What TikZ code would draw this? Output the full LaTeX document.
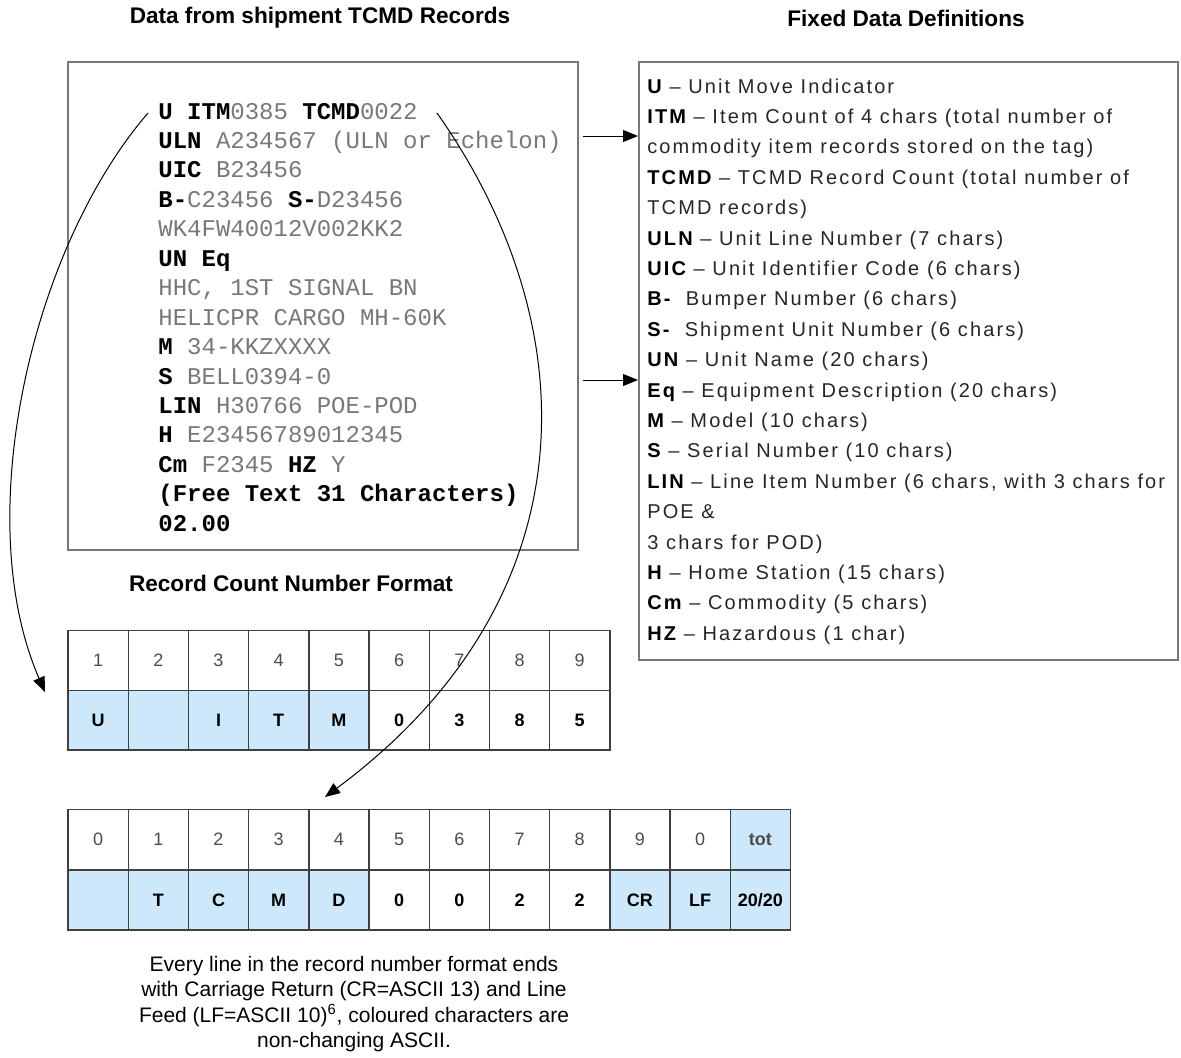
\documentclass[tikz,border=0pt]{standalone}
\usepackage{fontspec}
\usepackage{xcolor}
\setmainfont{Liberation Sans}
\newfontfamily\recfont{Liberation Mono}
\newfontfamily\deffont[LetterSpace=10.5]{Liberation Sans}
\usetikzlibrary{arrows.meta}

\definecolor{cellblue}{RGB}{204,232,250}
\definecolor{boxgray}{RGB}{120,120,120}
\definecolor{valgray}{RGB}{120,120,120}
\newcommand{\kw}[1]{\textbf{\color{black}#1}}

\begin{document}
\begin{tikzpicture}[x=0.5pt,y=-0.5pt,
    cell/.style={draw=black!75, line width=0.7pt, minimum width=30.1pt, minimum height=29.8pt, inner sep=0pt, font=\fontsize{9}{11}\selectfont},
    frame/.style={draw=boxgray, line width=1pt, inner sep=0pt},
    arr/.style={-{Triangle[length=7.5pt,width=6pt]}, line width=0.5pt},
    title/.style={font=\bfseries\fontsize{11.3}{13}\selectfont}]
    \useasboundingbox (0,0) rectangle (1181,1057);

    % titles
    \node[title] (dataTitle) at (320,18) {Data from shipment TCMD Records};
    \node[title] (defTitle) at (906,18) {Fixed Data Definitions};
    \node[title] (fmtTitle) at (291,583) {Record Count Number Format};

    % the two boxes
    \node[frame, minimum width=255pt, minimum height=244pt] (recBox) at (323,306) {};
    \node[frame, minimum width=269.5pt, minimum height=299pt] (defBox) at (908.5,361) {};

    % record lines
    \foreach \ln [count=\i from 0] in {
        {\kw{U ITM}0385 \kw{TCMD}0022},
        {\kw{ULN} A234567 (ULN or Echelon)},
        {\kw{UIC} B23456},
        {\kw{B-}C23456 \kw{S-}D23456},
        {WK4FW40012V002KK2},
        {\kw{UN Eq}},
        {HHC, 1ST SIGNAL BN},
        {HELICPR CARGO MH-60K},
        {\kw{M} 34-KKZXXXX},
        {\kw{S} BELL0394-0},
        {\kw{LIN} H30766 POE-POD},
        {\kw{H} E23456789012345},
        {\kw{Cm} F2345 \kw{HZ} Y},
        {\kw{(Free Text 31 Characters)}},
        {\kw{02.00}}}
        \node[anchor=base west, inner sep=0pt, text=valgray, font=\recfont\fontsize{12}{14}\selectfont] (rec-\i) at (158,{119+29.45*\i}) {\ln};

    % definition lines
    \foreach \ln [count=\i from 0] in {
        {\kw{U} – Unit Move Indicator},
        {\kw{ITM} – Item Count of 4 chars (total number of},
        {commodity item records stored on the tag)},
        {\kw{TCMD} – TCMD Record Count (total number of},
        {TCMD records)},
        {\kw{ULN} – Unit Line Number (7 chars)},
        {\kw{UIC} – Unit Identifier Code (6 chars)},
        {\kw{B-}\ \ Bumper Number (6 chars)},
        {\kw{S-}\ \ Shipment Unit Number (6 chars)},
        {\kw{UN} – Unit Name (20 chars)},
        {\kw{Eq} – Equipment Description (20 chars)},
        {\kw{M} – Model (10 chars)},
        {\kw{S} – Serial Number (10 chars)},
        {\kw{LIN} – Line Item Number (6 chars, with 3 chars for},
        {POE \&},
        {3 chars for POD)},
        {\kw{H} – Home Station (15 chars)},
        {\kw{Cm} – Commodity (5 chars)},
        {\kw{HZ} – Hazardous (1 char)}}
        \node[anchor=base west, inner sep=0pt, text=black!85, font=\deffont\fontsize{10}{11}\selectfont] (def-\i) at (647,{93+30.4*\i}) {\ln};

    \draw[arr] ([xshift=2pt]recBox.east |- 0,136) -- (defBox.west |- 0,136);
    \draw[arr] ([xshift=2pt]recBox.east |- 0,380) -- (defBox.west |- 0,380);

    % item count cells
    \foreach \num [count=\i] in {1,...,9}
        \node[cell, text=black!70] (itmHead-\i) at ({68+60.2*(\i-0.5)},660.5) {\num};
    \foreach \lab/\fc [count=\i] in {U/cellblue, /cellblue, I/cellblue, T/cellblue, M/cellblue, 0/white, 3/white, 8/white, 5/white}
        \node[cell, fill=\fc] (itm-\i) at ({68+60.2*(\i-0.5)},720) {\textbf{\lab}};

    % tcmd count cells
    \foreach \lab/\fc [count=\i] in {0/white, 1/white, 2/white, 3/white, 4/white, 5/white, 6/white, 7/white, 8/white, 9/white, 0/white, \textbf{tot}/cellblue}
        \node[cell, fill=\fc, text=black!70] (tcmdHead-\i) at ({68+60.2*(\i-0.5)},839.5) {\lab};
    \foreach \lab/\fc [count=\i] in { /cellblue, T/cellblue, C/cellblue, M/cellblue, D/cellblue, 0/white, 0/white, 2/white, 2/white, CR/cellblue, LF/cellblue, {20/20}/cellblue}
        \node[cell, fill=\fc] (tcmd-\i) at ({68+60.2*(\i-0.5)},900) {\textbf{\lab}};

    % curved pointers
    \coordinate (uMark) at (148,113);
    \coordinate (uEnd) at (45,692);
    \draw[arr] (uMark) .. controls (30,250) and (-30,520) .. (uEnd);
    \coordinate (tcmdMark) at (437,113);
    \coordinate (tcmdEnd) at (325,797);
    \draw[arr] (tcmdMark) .. controls (590,330) and (590,600) .. (tcmdEnd);

    \node[align=center, font=\fontsize{10.5}{12.65}\selectfont] (note) at (354,1004) {Every line in the record number format ends\\with Carriage Return (CR=ASCII 13) and Line\\Feed (LF=ASCII 10)\textsuperscript{6}, coloured characters are\\non-changing ASCII.};
\end{tikzpicture}
\end{document}
